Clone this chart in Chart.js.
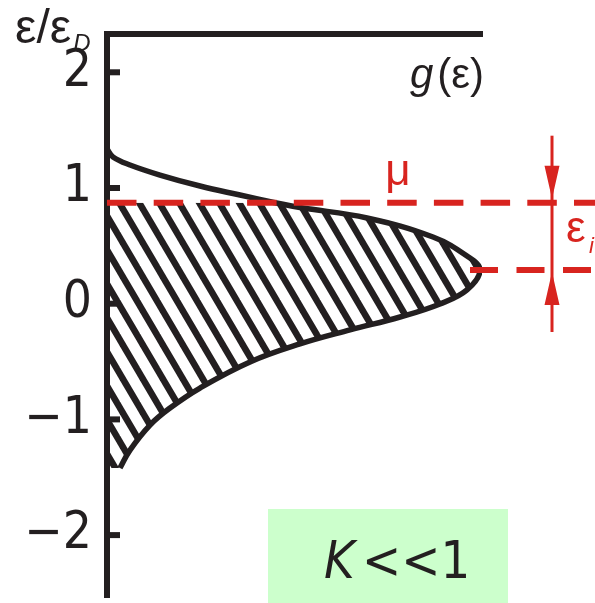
<!DOCTYPE html>
<html lang="en">
<head>
<meta charset="UTF-8">
<title>g(ε), K &lt;&lt; 1</title>
<script src="https://cdn.jsdelivr.net/npm/chart.js"></script>
<style>
  html, body { margin: 0; padding: 0; background: #fff; }
  #wrap { width: 595px; height: 603px; }
</style>
</head>
<body>
<div id="wrap"><canvas id="dos" width="595" height="603"></canvas></div>
<script>
// energy axis (units of eps_D) runs vertically, g(eps) horizontally
const tickValues = [-2, -1, 0, 1, 2];

// occupied part of the band (below mu), ascending energy
const epsLower = [-1.42, -1.265, -1.049, -0.902, -0.729, -0.504, -0.348, -0.227, -0.115, -0.002, 0.119, 0.291, 0.412, 0.576, 0.741, 0.831, 0.873];
const gLower   = [0.13, 0.23, 0.43, 0.63, 0.93, 1.43, 1.93, 2.43, 2.93, 3.33, 3.60, 3.73, 3.60, 3.26, 2.60, 1.93, 1.68];

// empty tail above mu
const epsUpper = [0.873, 0.939, 1.017, 1.112, 1.199, 1.268, 1.337];
const gUpper   = [1.68, 1.33, 0.93, 0.53, 0.23, 0.06, 0.0];

const mu = 0.873;       // chemical potential
const epsPeak = 0.291;  // band maximum
const gPeakLineStart = 3.63;
const gRight = 4.88;    // dashed lines run off to the right edge
const gArrow = 4.45;    // where the eps_i arrows sit

const ink = '#231f20';
const red = '#d8241f';
const narrow = "'Liberation Sans Narrow', 'DejaVu Sans Condensed', sans-serif";

function toPoints(gs, es) {
  return gs.map((g, i) => ({ x: g, y: es[i] }));
}

// diagonal hatching for the filled states
function hatchPattern() {
  const c = document.createElement('canvas');
  c.width = 20;
  c.height = 34;
  const g = c.getContext('2d');
  g.strokeStyle = ink;
  g.lineWidth = 6.5;
  for (let k = -3; k <= 3; k++) {
    g.beginPath();
    g.moveTo(k * 20 - 20, -34);
    g.lineTo(k * 20 + 40, 68);
    g.stroke();
  }
  return g.createPattern(c, 'repeat');
}

const decor = {
  id: 'decor',
  afterDraw(chart) {
    const ctx = chart.ctx;
    const xs = chart.scales.x, ys = chart.scales.y;
    const left = chart.chartArea.left;

    ctx.save();
    // tick marks pointing into the plot
    ctx.strokeStyle = ink;
    ctx.lineWidth = 6;
    tickValues.forEach(v => {
      const y = ys.getPixelForValue(v);
      ctx.beginPath();
      ctx.moveTo(left, y);
      ctx.lineTo(left + 13, y);
      ctx.stroke();
    });

    // axis titles
    ctx.fillStyle = ink;
    ctx.textBaseline = 'alphabetic';
    ctx.textAlign = 'left';
    ctx.font = "48px 'Liberation Sans', sans-serif";
    ctx.fillText('ε/ε', 15, 43);
    const wt = ctx.measureText('ε/ε').width;
    ctx.font = "italic 24px 'Liberation Sans', sans-serif";
    ctx.fillText('D', 15 + wt + 2, 51);

    ctx.textAlign = 'right';
    ctx.font = "42px 'Liberation Sans', sans-serif";
    ctx.fillText('(ε)', 484, 88);
    const w = ctx.measureText('(ε)').width;
    ctx.font = "italic 42px 'Liberation Sans', sans-serif";
    ctx.fillText('g', 484 - w - 4, 88);

    // mu and eps_i labels
    const yMu = ys.getPixelForValue(mu);
    const yPk = ys.getPixelForValue(epsPeak);
    const xa = xs.getPixelForValue(gArrow);
    ctx.fillStyle = red;
    ctx.textAlign = 'center';
    ctx.font = "44px 'Liberation Sans', sans-serif";
    ctx.fillText('μ', 398, yMu - 18);
    ctx.textAlign = 'left';
    ctx.font = "44px 'Liberation Sans', sans-serif";
    ctx.fillText('ε', 566, 242);
    ctx.font = "italic 22px 'Liberation Sans', sans-serif";
    ctx.fillText('i', 589, 253);

    // arrows marking eps_i
    ctx.strokeStyle = red;
    ctx.lineWidth = 3;
    ctx.beginPath();
    ctx.moveTo(xa, yMu - 67);
    ctx.lineTo(xa, yPk + 62);
    ctx.stroke();
    ctx.beginPath();
    ctx.moveTo(xa, yMu - 4);
    ctx.lineTo(xa - 7.5, yMu - 37);
    ctx.lineTo(xa + 7.5, yMu - 37);
    ctx.closePath();
    ctx.moveTo(xa, yPk + 2);
    ctx.lineTo(xa - 7.5, yPk + 35);
    ctx.lineTo(xa + 7.5, yPk + 35);
    ctx.closePath();
    ctx.fill();

    // parameter box
    ctx.fillStyle = '#ccffcc';
    ctx.fillRect(268, 509, 240, 94);
    ctx.fillStyle = ink;
    ctx.font = 'italic 52px ' + narrow;
    ctx.fillText('K', 324, 578);
    ctx.font = '52px ' + narrow;
    ctx.fillText('<<1', 362, 578);
    ctx.restore();
  }
};

new Chart(document.getElementById('dos'), {
  type: 'line',
  data: {
    datasets: [
      {
        data: [{ x: 0, y: mu }, { x: gRight, y: mu }],
        borderColor: red, borderWidth: 6, borderDash: [29.5, 17.2],
        pointRadius: 0, fill: false, clip: false
      },
      {
        data: [{ x: gPeakLineStart, y: epsPeak }, { x: gRight, y: epsPeak }],
        borderColor: red, borderWidth: 6, borderDash: [28, 18.5],
        pointRadius: 0, fill: false, clip: false
      },
      {
        data: toPoints(gUpper, epsUpper).reverse(),
        borderColor: ink, borderWidth: 5.5, tension: 0.4,
        pointRadius: 0, fill: false
      },
      {
        data: toPoints(gLower, epsLower),
        borderColor: ink, borderWidth: 5.5, tension: 0.4,
        pointRadius: 0, fill: 'origin', backgroundColor: hatchPattern()
      }
    ]
  },
  options: {
    indexAxis: 'y',
    responsive: false,
    animation: false,
    layout: { padding: { top: 0, right: 113, bottom: 6, left: 0 } },
    plugins: { legend: { display: false }, tooltip: { enabled: false } },
    scales: {
      x: {
        type: 'linear', position: 'top', min: 0, max: 3.75,
        ticks: { display: false },
        grid: { display: false, drawTicks: false },
        border: { display: true, width: 6, color: ink },
        afterFit(s) { s.height = 34; s.paddingLeft = 0; s.paddingRight = 0; }
      },
      y: {
        type: 'linear', min: -2.535, max: 2.331,
        afterBuildTicks(s) { s.ticks = tickValues.map(v => ({ value: v })); },
        ticks: {
          color: ink, padding: 15,
          font: { family: narrow, size: 51 },
          callback: v => (v < 0 ? '\u2212' + Math.abs(v) : String(v))
        },
        grid: { display: false, drawTicks: false },
        border: { display: true, width: 6, color: ink },
        afterFit(s) { s.width = 107; s.paddingTop = 0; s.paddingBottom = 0; }
      }
    }
  },
  plugins: [decor]
});
</script>
</body>
</html>
